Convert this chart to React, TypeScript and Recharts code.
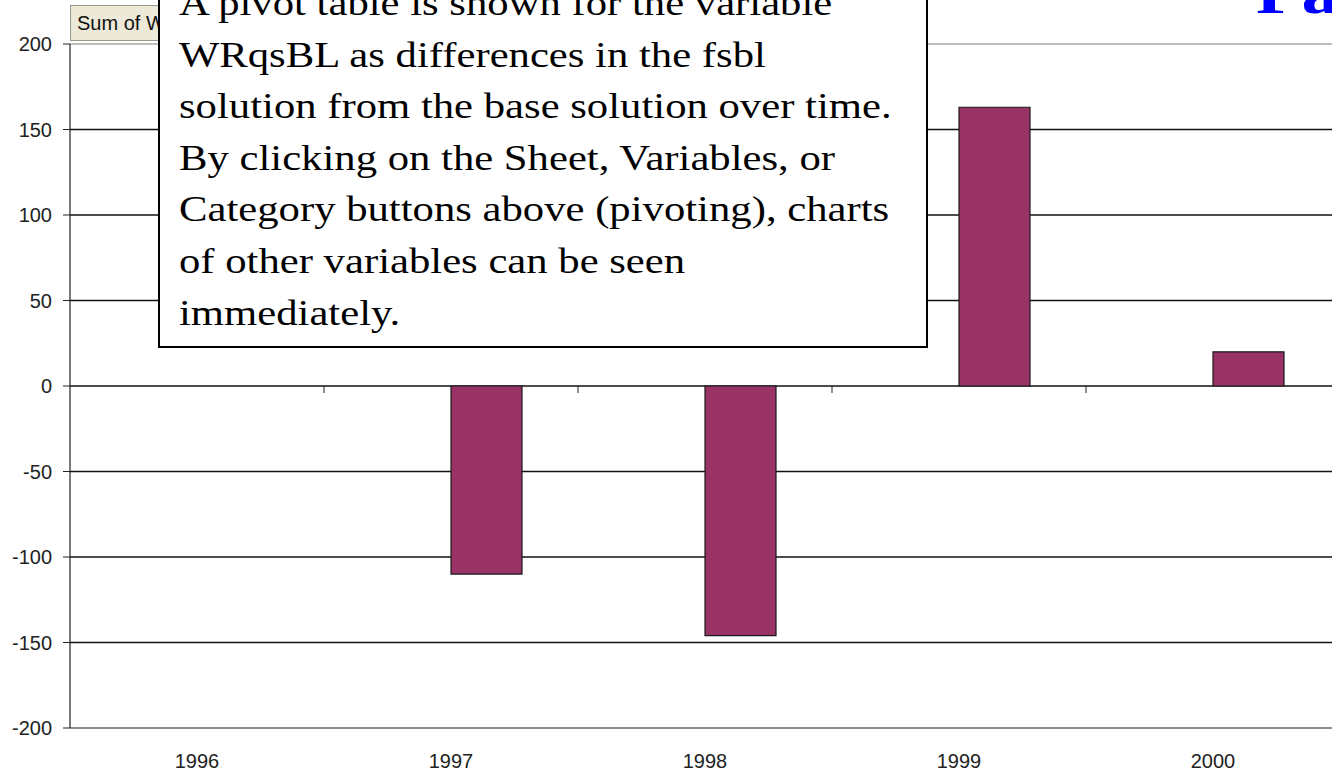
import { BarChart, Bar, XAxis, YAxis, CartesianGrid, ReferenceLine } from 'recharts';

const CATEGORIES = ['1996', '1997', '1998', '1999', '2000'];
// the pivot chart has an empty first series, so the real bars sit right of the category centre
const EMPTY_SERIES = [null, null, null, null, null];
const WRQSBL_DIFF = [0, -110, -146, 163, 20];
const Y_TICKS = [-200, -150, -100, -50, 0, 50, 100, 150, 200];
const GRID_VALUES = [-150, -100, -50, 0, 50, 100, 150];

const NOTE_LINES = [
  'A pivot table is shown for the variable',
  'WRqsBL as differences in the fsbl',
  'solution from the base solution over time.',
  'By clicking on the Sheet, Variables, or',
  'Category buttons above (pivoting), charts',
  'of other variables can be seen',
  'immediately.',
];

const data = CATEGORIES.map((year, i) => ({
  year,
  blank: EMPTY_SERIES[i],
  diff: WRQSBL_DIFF[i],
}));

const PLOT_TOP = 44;
const PLOT_HEIGHT = 684;
const BAND = 254;
const ZERO_Y = PLOT_TOP + PLOT_HEIGHT / 2;
const AXIS_FONT = '"Liberation Sans", Arial, sans-serif';
const SERIF = '"Liberation Serif", "Times New Roman", serif';

function YearTick(props: any) {
  const { x, y, payload } = props;
  return (
    <g>
      {/* category divider ticks sit on the zero line */}
      <line x1={x + BAND / 2} x2={x + BAND / 2} y1={ZERO_Y} y2={ZERO_Y + 7} stroke="#222" />
      <text x={x} y={y} dy="0.71em" textAnchor="middle" fontSize={20} fontFamily={AXIS_FONT} fill="#222">
        {payload.value}
      </text>
    </g>
  );
}

export default function App() {
  return (
    <div
      style={{
        position: 'absolute',
        left: 0,
        top: 0,
        width: 1332,
        height: 775,
        overflow: 'hidden',
        background: '#fff',
      }}
    >
      <BarChart
        width={1340}
        height={775}
        data={data}
        margin={{ top: PLOT_TOP, right: 0, bottom: 0, left: 0 }}
        barGap={0}
      >
        <CartesianGrid
          horizontal
          vertical={false}
          horizontalValues={GRID_VALUES}
          stroke="#111"
          strokeWidth={1.4}
        />
        <ReferenceLine y={200} stroke="#a8a8a8" strokeWidth={1.4} />
        <XAxis
          dataKey="year"
          height={47}
          interval={0}
          tickLine={false}
          tickSize={0}
          tickMargin={26}
          axisLine={{ stroke: '#666', strokeWidth: 1.4 }}
          tick={<YearTick />}
        />
        <YAxis
          width={70}
          domain={[-200, 200]}
          ticks={Y_TICKS}
          interval={0}
          tickSize={7}
          tickMargin={11}
          axisLine={{ stroke: '#222', strokeWidth: 1.2 }}
          tickLine={{ stroke: '#222' }}
          tick={{ fontSize: 20, fontFamily: AXIS_FONT, fill: '#222' }}
        />
        <Bar dataKey="blank" barSize={71} fill="#9999ff" isAnimationActive={false} />
        <Bar dataKey="diff" barSize={71} fill="#993366" stroke="#1a1a1a" strokeWidth={1.2} isAnimationActive={false} />
      </BarChart>

      <svg
        width={1332}
        height={775}
        style={{ position: 'absolute', left: 0, top: 0, pointerEvents: 'none' }}
      >
        {/* pivot field button */}
        <rect x={70.5} y={5.5} width={110} height={35} fill="#ECE9D8" stroke="#9a9a8a" />
        <text x={77} y={30} fontSize={20} fontFamily={AXIS_FONT} fill="#111">
          Sum of WRqsBL
        </text>

        {/* slide title, cut off at the top */}
        <text
          transform="translate(1256, 12.5) scale(1.24, 1)"
          fontSize={60}
          fontWeight="bold"
          fontFamily={SERIF}
          fill="#0000ff"
        >
          Pa
        </text>

        {/* callout box */}
        <rect x={159} y={-10} width={768} height={357} fill="#fff" stroke="#000" strokeWidth={2} />
        {NOTE_LINES.map((line, i) => (
          <text
            key={i}
            transform={`translate(179, ${15 + i * 51.6}) scale(1.22, 1)`}
            fontSize={35}
            fontFamily={SERIF}
            fill="#000"
          >
            {line}
          </text>
        ))}
      </svg>
    </div>
  );
}
